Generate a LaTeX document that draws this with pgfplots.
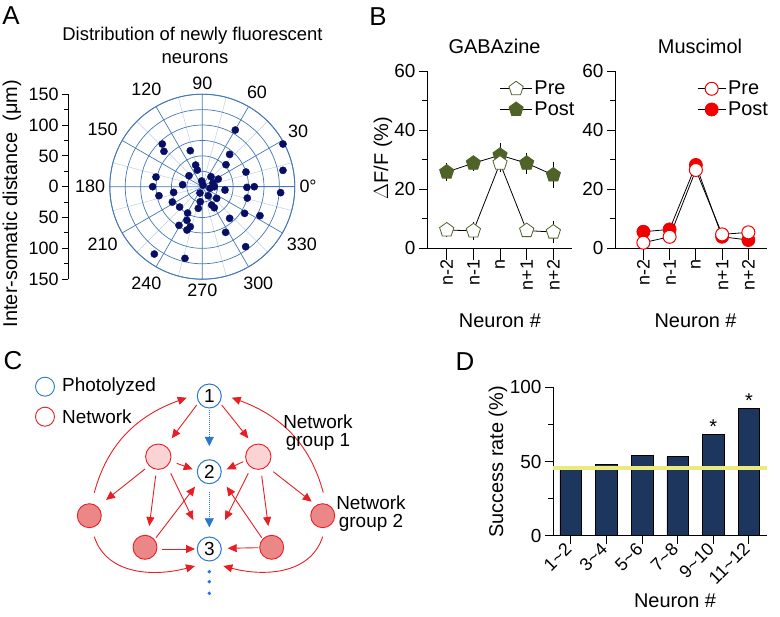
\documentclass[border=0pt]{standalone}
\usepackage{fontspec}
\setmainfont{Liberation Sans}
\usepackage{pgfplots}
\pgfplotsset{compat=1.18}
\usepgfplotslibrary{polar}
\usetikzlibrary{arrows.meta,plotmarks}
\definecolor{navy}{RGB}{8,14,100}
\definecolor{gridblue}{RGB}{70,120,180}
\definecolor{gridlight}{RGB}{190,208,228}
\definecolor{olivec}{RGB}{79,98,40}
\definecolor{myred}{RGB}{240,0,0}
\definecolor{barblue}{RGB}{28,54,94}
\definecolor{yel}{RGB}{234,234,125}
\definecolor{cred}{RGB}{232,30,36}
\definecolor{pinkL}{RGB}{250,212,212}
\definecolor{pinkD}{RGB}{236,135,135}
\definecolor{cblue}{RGB}{40,120,205}
\newcommand\fz[1]{\fontsize{#1}{#1}\selectfont}
\pgfplotsset{
  panel/.style={scale only axis, axis x line*=bottom, axis y line*=left,
    tick align=outside, axis line style={black, line width=0.9bp},
    every tick/.style={black, line width=0.9bp},
    major tick length=8bp, minor tick length=5bp,
    /pgf/number format/assume math mode=true,
    yticklabel style={font=\fz{19}}, xticklabel style={font=\fz{18}},
    label style={font=\fz{20}}},
}
\begin{document}
\begin{tikzpicture}
\path[use as bounding box] (0,0) rectangle (780bp,617bp);

% ---------------- Panel A ----------------
\begin{polaraxis}[
  at={(109.8bp,337.8bp)}, anchor=south west,
  scale only axis, width=185bp, height=185bp,
  ymin=0, ymax=150,
  xtick={0,30,...,330},
  xticklabels={0°,30,60,90,120,150,180,210,240,270,300,330},
  minor xtick={15,45,...,345},
  ytick={25,50,...,150},
  yticklabels={},
  grid=both,
  major grid style={gridblue, line width=0.7bp},
  minor grid style={gridlight, line width=0.5bp},
  axis line style={gridblue, line width=0.9bp},
  major tick length=0pt, minor tick length=0pt,
  xticklabel style={font=\fz{18}, inner sep=4.5bp},
  clip=false,
]
\addplot[only marks, mark=*, mark size=3.6bp, navy, data cs=cart] coordinates {
(53.5,91.9) (130.8,69.2) (130.8,26.5) (127.0,-9.7) (44.3,52.4) (38.4,35.7)
(70.8,23.8) (72.4,-1.1) (84.3,0) (73.0,-18.4) (68.6,-43.2) (93.5,-47.0)
(70.3,-97.3) (44.3,-51.3) (37.8,-74.0) (-64.9,69.2) (-62.2,57.3) (-19.5,58.4)
(-10.8,35.1) (-8.1,27.0) (-21.6,17.8) (-75.1,15.7) (-80.5,0) (-31.9,3.2)
(-70.3,-14.6) (-46.5,-9.2) (-48.6,-24.9) (-36.8,-33.0) (-23.8,-42.7) (-24.9,-54.6)
(-37.8,-62.7) (-19.5,-64.9) (-24.9,-70.3) (-77.8,-109.2) (-28.1,-116.2)
(14.1,16.2) (25.9,12.4) (-1.0,9.2) (1.1,2.7) (-3.8,-10.3) (12.4,-2.6)
(19.4,0) (17.3,6.0) (36.8,-5.4) (-6.5,-35.1) (9.7,-14.6) (23.3,-18.9)
(15.2,-29.7) (19.4,-34.1) (-3.3,-24.4)
};
\end{polaraxis}

\begin{axis}[
  at={(68bp,337.8bp)}, anchor=south west,
  scale only axis, width=1bp, height=185bp,
  xmin=0, xmax=1, ymin=-150, ymax=150,
  axis x line=none, axis y line*=left,
  ytick={-150,-100,...,150},
  yticklabels={150,100,50,0,50,100,150},
  minor ytick={-125,-75,...,125},
  tick align=outside,
  every tick/.style={black, line width=0.9bp},
  major tick length=6bp, minor tick length=4bp,
  yticklabel style={font=\fz{18}},
  axis line style={black, line width=0.9bp},
]
\addplot[draw=none] coordinates {(0,0)};
\end{axis}

% ---------------- Panel B left ----------------
\begin{axis}[panel,
  at={(427bp,368.7bp)}, anchor=south west,
  width=145bp, height=177.3bp,
  xmin=-0.74, xmax=4.70, ymin=0, ymax=60,
  xtick={0,...,4}, xticklabels={n-2,n-1,n,n+1,n+2},
  xtick style={/pgfplots/major tick length=12bp},
  ytick={0,20,40,60}, minor ytick={10,30,50},
  xticklabel style={rotate=90, anchor=east},
  xlabel={Neuron \#}, ylabel={$\Delta$F/F (\%)},
  xlabel style={at={(axis description cs:0.503,-0.41)}, anchor=center},
  ylabel style={at={(axis description cs:-0.303,0.509)}, anchor=center, rotate=0},
  clip=false,
  reverse legend,
  legend style={at={(0.50,0.955)}, anchor=north west, draw=none, fill=none,
    font=\fz{20}, inner sep=0pt, row sep=1.5bp, cells={anchor=west}},
  legend image code/.code={\draw[mark repeat=2,mark phase=2,#1] plot coordinates {(0bp,0bp)(16bp,0bp)(32bp,0bp)};},
]
\addplot[black, line width=0.8bp, mark=pentagon*, mark size=7.5bp,
  mark options={fill=olivec, draw=olivec, solid},
  error bars/.cd, y dir=both, y explicit, error mark=none,
  error bar style={black, line width=0.8bp}]
  coordinates {(0,25.8) +- (0,3.1) (1,28.8) +- (0,2.5) (2,31.5) +- (0,4.0) (3,28.8) +- (0,3.5) (4,24.8) +- (0,4.5)};
\addlegendentry{Post}
\addplot[black, line width=0.8bp, mark=pentagon*, mark size=7.5bp,
  mark options={fill=white, draw=olivec, solid},
  error bars/.cd, y dir=both, y explicit, error mark=none,
  error bar style={black, line width=0.8bp}]
  coordinates {(0,6.2) +- (0,2.5) (1,5.9) +- (0,3.0) (2,28.8) +- (0,3.0) (3,6.0) +- (0,2.0) (4,5.5) +- (0,3.6)};
\addlegendentry{Pre}
\end{axis}

% ---------------- Panel B right ----------------
\begin{axis}[panel,
  at={(615bp,368.7bp)}, anchor=south west,
  width=152bp, height=177.3bp,
  xmin=-1.08, xmax=4.71, ymin=0, ymax=60,
  xtick={0,...,4}, xticklabels={n-2,n-1,n,n+1,n+2},
  xtick style={/pgfplots/major tick length=12bp},
  ytick={0,20,40,60}, minor ytick={10,30,50},
  xticklabel style={rotate=90, anchor=east},
  xlabel={Neuron \#},
  xlabel style={at={(axis description cs:0.53,-0.41)}, anchor=center},
  clip=false,
  reverse legend,
  legend style={at={(0.54,0.955)}, anchor=north west, draw=none, fill=none,
    font=\fz{20}, inner sep=0pt, row sep=1.5bp, cells={anchor=west}},
  legend image code/.code={\draw[mark repeat=2,mark phase=2,#1] plot coordinates {(0bp,0bp)(14bp,0bp)(28bp,0bp)};},
]
\addplot[black, line width=0.8bp, mark=*, mark size=6.5bp,
  mark options={fill=myred, draw=myred, solid}]
  coordinates {(0,5.6) (1,6.4) (2,28.2) (3,3.9) (4,2.8)};
\addlegendentry{Post}
\addplot[black, line width=0.8bp, mark=*, mark size=6.5bp,
  mark options={fill=white, draw=myred, line width=1bp, solid}]
  coordinates {(0,1.9) (1,3.9) (2,26.5) (3,4.7) (4,5.4)};
\addlegendentry{Pre}
\end{axis}

% ---------------- Panel D ----------------
\begin{axis}[panel,
  at={(553bp,81.3bp)}, anchor=south west,
  width=213.7bp, height=148.4bp,
  xmin=-0.5, xmax=5.5, ymin=0, ymax=100,
  xtick={0,...,5},
  xticklabels={1\textasciitilde 2,3\textasciitilde 4,5\textasciitilde 6,7\textasciitilde 8,9\textasciitilde 10,11\textasciitilde 12},
  ytick={0,50,100}, minor ytick={25,75},
  xticklabel style={rotate=45, anchor=east},
  xlabel={Neuron \#}, ylabel={Success rate (\%)},
  xlabel style={at={(axis description cs:0.571,-0.44)}, anchor=center},
  ylabel style={at={(axis description cs:-0.257,0.497)}, anchor=center},
  clip=false,
]
\addplot[ybar, bar width=21.7bp, fill=barblue, draw=black, line width=0.6bp]
  coordinates {(0,45.4) (1,48.3) (2,54.2) (3,53.2) (4,68.3) (5,85.8)};
\addplot[yel, line width=4bp] coordinates {(-0.5,45.4) (5.5,45.4)};
\node[anchor=base, font=\fz{20}, inner sep=0pt] at (axis cs:4,68.6) {*};
\node[anchor=base, font=\fz{20}, inner sep=0pt] at (axis cs:5,86.1) {*};
\end{axis}

% ---------------- Texts and panel C ----------------
\begin{scope}[x=1bp,y=1bp]
\node[font=\fz{26}] at (11,601) {A};
\node[font=\fz{26}] at (378,600) {B};
\node[font=\fz{26}] at (13,256) {C};
\node[font=\fz{26}] at (465,255) {D};
\node[font=\fz{18.5}] at (192.5,581) {Distribution of newly fluorescent};
\node[font=\fz{18.5}] at (195,558) {neurons};
\node[font=\fz{20}, rotate=90] at (12,413.5) {Inter-somatic distance\ \ (μm)};
\node[font=\fz{20}] at (494.5,571) {GABAzine};
\node[font=\fz{20}] at (700,571) {Muscimol};

% legend of C
\draw[cblue, line width=0.9bp] (45,230.3) circle (9.5);
\node[anchor=west, font=\fz{19}, inner sep=0pt] at (62,230.3) {Photolyzed};
\draw[cred, line width=0.9bp] (45,200.3) circle (9.5);
\node[anchor=west, font=\fz{19}, inner sep=0pt] at (62,200.3) {Network};

\begin{scope}[cred, line width=0.9bp, -{Triangle[length=9bp,width=8bp]}]
\draw (196.7,212) -- (171.7,178.7);
\draw (221.7,212) -- (248.3,178.7);
\draw (176.7,153.7) -- (192.7,147.7);
\draw (243.3,155.3) -- (226.7,147.7);
\draw (145,148) -- (106,117);
\draw (273.3,145.3) -- (311.7,115.3);
\draw (155.7,141.3) -- (149.3,91);
\draw (261.7,141.3) -- (268.3,91);
\draw (170.7,143.7) -- (193.3,97);
\draw (248.3,143.7) -- (225,97);
\draw (156,79.3) -- (195,130.3);
\draw (261.7,79.3) -- (226.7,130.3);
\draw (162.3,68) -- (195,68);
\draw (258.3,69.3) -- (227.7,68.7);
\draw (94.3,124.3) to[out=75,in=200] (186.7,219.3);
\draw (323.3,124.3) to[out=105,in=-20] (231.7,219.3);
\draw (94.3,80.3) to[out=-72,in=195] (195,51);
\draw (322.7,80.3) to[out=-108,in=-15] (223.3,51);
\end{scope}

% blue dotted arrows
\draw[cblue, line width=1bp, densely dotted] (209.3,207) -- (209.3,178);
\draw[cblue, -{Triangle[length=9bp,width=9bp]}] (209.3,179) -- (209.3,171);
\draw[cblue, line width=1bp, densely dotted] (209.3,125.3) -- (209.3,97);
\draw[cblue, -{Triangle[length=9bp,width=9bp]}] (209.3,98) -- (209.3,89.7);
\fill[cblue] (209.3,45.3) circle (1.9) (209.3,35.3) circle (1.9) (209.3,23.7) circle (1.9);

% circles
\draw[cred, line width=0.9bp, fill=pinkL] (158.3,160.3) circle (12.7);
\draw[cred, line width=0.9bp, fill=pinkL] (258.3,160.3) circle (12.7);
\draw[cred, line width=0.9bp, fill=pinkD] (89.3,101.3) circle (12);
\draw[cred, line width=0.9bp, fill=pinkD] (322.7,101.3) circle (12);
\draw[cred, line width=0.9bp, fill=pinkD] (145,69.7) circle (12);
\draw[cred, line width=0.9bp, fill=pinkD] (271.7,69.7) circle (12);
\foreach \yy/\lab in {221/1,145.3/2,68/3}{
  \draw[cblue, line width=1bp, fill=white] (209.3,\yy) circle (12);
  \node[font=\fz{19}] at (209.3,\yy) {\lab};
}
\node[font=\fz{19}, align=center] at (318,184) {Network\\[-1pt]group 1};
\node[font=\fz{19}, align=center] at (371,103) {Network\\[-1pt]group 2};
\end{scope}
\end{tikzpicture}
\end{document}
